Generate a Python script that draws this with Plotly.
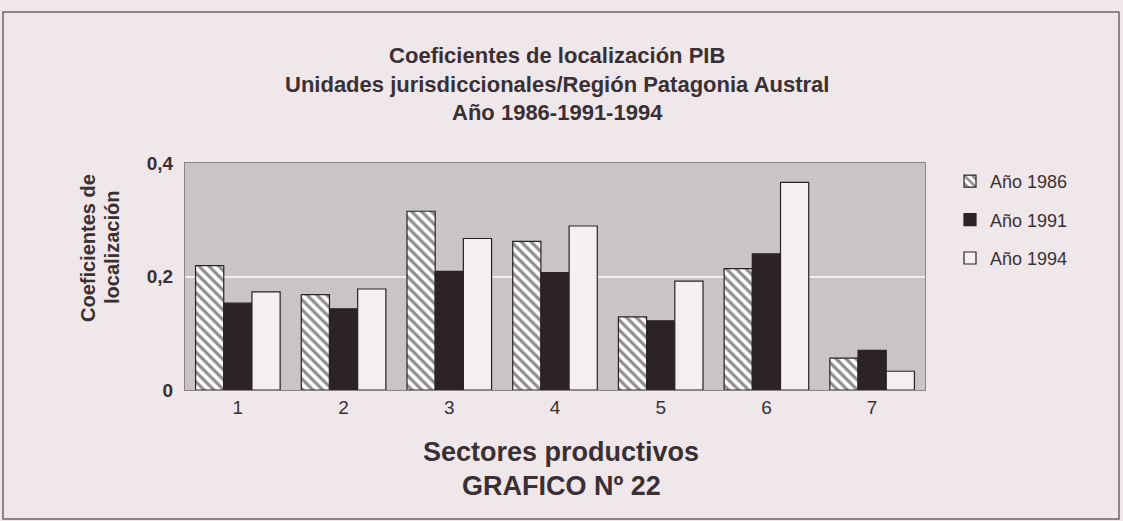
import plotly.graph_objects as go

# Datos
sectores = ["1", "2", "3", "4", "5", "6", "7"]
anio_1986 = [0.219, 0.168, 0.315, 0.262, 0.129, 0.214, 0.056]
anio_1991 = [0.153, 0.143, 0.209, 0.207, 0.122, 0.240, 0.070]
anio_1994 = [0.173, 0.178, 0.267, 0.289, 0.192, 0.366, 0.033]
nombres = ["Año 1986", "Año 1991", "Año 1994"]
titulo = ["Coeficientes de localización PIB",
          "Unidades jurisdiccionales/Región Patagonia Austral",
          "Año 1986-1991-1994"]
titulo_y = ["Coeficientes de", "localización"]
pie = ["Sectores productivos", "GRAFICO Nº 22"]

FUENTE = "Liberation Sans, Arial, sans-serif"
TINTA = "#3a3034"
FONDO = "#efe7ea"
BORDE = "#2a2224"

W, H = 1123, 521
ML, MR, MT, MB = 185, 198, 163, 131

fig = go.Figure()
fig.add_trace(go.Bar(
    x=sectores, y=anio_1986, name=nombres[0], legendgroup="a",
    marker=dict(color="white", line=dict(color=BORDE, width=1.2),
                pattern=dict(shape="\\", fgcolor="#1e1819", bgcolor="white",
                             size=7, solidity=0.45)),
))
fig.add_trace(go.Bar(
    x=sectores, y=anio_1991, name=nombres[1], legendgroup="b",
    marker=dict(color="#2b2325", line=dict(color=BORDE, width=1.2)),
))
fig.add_trace(go.Bar(
    x=sectores, y=anio_1994, name=nombres[2], legendgroup="c",
    marker=dict(color="#f4f0f1", line=dict(color=BORDE, width=1.2)),
))


def px_x(p):
    return (p - ML) / (W - ML - MR)


def px_y(p):
    return (H - MB - p) / (H - MT - MB)


fig.update_layout(
    width=W, height=H,
    margin=dict(l=ML, r=MR, t=MT, b=MB),
    paper_bgcolor=FONDO,
    plot_bgcolor="#c9c4c6",
    font=dict(family=FUENTE, color=TINTA, size=16),
    barmode="group",
    bargap=0.2,
    bargroupgap=0,
    showlegend=True,
    legend=dict(
        x=px_x(950), y=px_y(163), xanchor="left", yanchor="top",
        bgcolor="rgba(0,0,0,0)",
        font=dict(size=18, family=FUENTE, color=TINTA),
        tracegroupgap=12, itemwidth=30,
    ),
)

fig.update_xaxes(
    showgrid=False, showline=True, linecolor="#8a8486", linewidth=1,
    mirror=True, ticks="", tickfont=dict(size=19, color=TINTA),
)
fig.update_yaxes(
    range=[0, 0.4], tickvals=[0, 0.2, 0.4], ticktext=["0", "0,2", "0,4"],
    showgrid=True, gridcolor="#f2eeef", gridwidth=2,
    zeroline=False, showline=True, linecolor="#8a8486", linewidth=1,
    mirror=True, ticks="", ticklabelstandoff=7,
    tickfont=dict(size=19, color=TINTA, weight="bold"),
)

# Título
fig.add_annotation(
    text="<b>" + "<br>".join(titulo) + "</b>", xref="paper", yref="paper",
    x=px_x(557), y=px_y(84), xanchor="center", yanchor="middle",
    showarrow=False, font=dict(size=22, family=FUENTE, color=TINTA),
)

# Título eje Y
for linea, xx in zip(titulo_y, [88, 112]):
    fig.add_annotation(
        text=f"<b>{linea}</b>", textangle=-90,
        xref="paper", yref="paper", x=px_x(xx), y=px_y(248),
        xanchor="center", yanchor="middle",
        showarrow=False, font=dict(size=20, family=FUENTE, color=TINTA),
    )

# Título eje X y número de gráfico
for linea, yy in zip(pie, [452, 486]):
    fig.add_annotation(
        text=f"<b>{linea}</b>", xref="paper", yref="paper",
        x=px_x(561), y=px_y(yy), xanchor="center", yanchor="middle",
        showarrow=False, font=dict(size=27, family=FUENTE, color=TINTA),
    )

# Marco exterior
fig.add_shape(
    type="rect", xref="paper", yref="paper",
    x0=px_x(3), x1=px_x(1119), y0=px_y(519), y1=px_y(12),
    line=dict(color="#6e6668", width=1.5), fillcolor="rgba(0,0,0,0)",
    layer="below",
)

# sin margen del body para que la figura ocupe la ventana exacta
fig.write_html(
    "out.html",
    config={"displayModeBar": False},
    post_script="document.body.style.margin='0';",
)
